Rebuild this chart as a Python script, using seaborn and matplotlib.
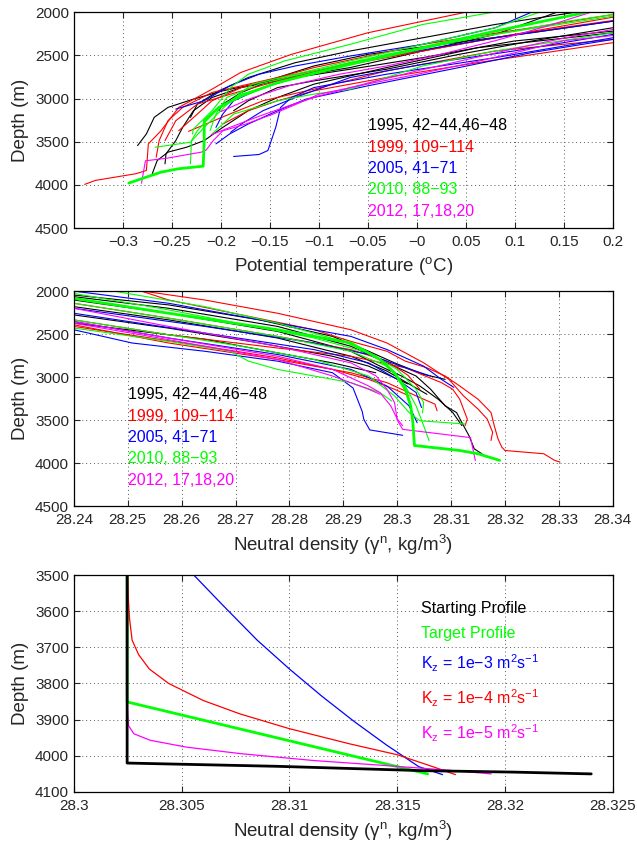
import numpy as np
import pandas as pd
import seaborn as sns
import matplotlib.pyplot as plt
from matplotlib.ticker import FuncFormatter, MultipleLocator

# ---------------- panel 1: potential temperature vs depth ----------------
theta_1995_depth = [
    [2000, 2257, 2449, 2641, 2776, 2910, 3006, 3102, 3217, 3409, 3544],
    [2219, 2334, 2526, 2660, 2756, 2872, 2987, 3140, 3333, 3486, 3640, 3755],
    [2238, 2411, 2641, 2833, 2987, 3140, 3333, 3486, 3563, 3620, 3717, 3870],
    [2000, 2142, 2296, 2449, 2584, 2756, 2910, 3064, 3217],
    [2104, 2238, 2372, 2488, 2622, 2756, 2929, 3064, 3140],
    [2180, 2334, 2488, 2660, 2795, 2872, 3025, 3140],
]
theta_1995 = [
    [0.143, 0.080, 0.006, -0.068, -0.142, -0.198, -0.228, -0.254, -0.268, -0.276, -0.285],
    [0.200, 0.099, 0.006, -0.068, -0.124, -0.179, -0.209, -0.228, -0.239, -0.246, -0.256, -0.257],
    [0.200, 0.062, -0.031, -0.105, -0.142, -0.172, -0.198, -0.217, -0.235, -0.254, -0.265, -0.270],
    [0.162, 0.080, 0.006, -0.068, -0.124, -0.172, -0.202, -0.224, -0.231],
    [0.200, 0.117, 0.025, -0.050, -0.105, -0.142, -0.179, -0.198, -0.202],
    [0.200, 0.117, 0.043, -0.031, -0.105, -0.142, -0.172, -0.187],
]
theta_1999_depth = [
    [2000, 2238, 2488, 2699, 2891, 3102, 3371, 3524, 3832, 3870, 3947, 3993],
    [2058, 2296, 2526, 2756, 2929, 3102, 3256, 3486, 3678],
    [2315, 2449, 2680, 2891, 3025, 3179, 3379],
    [2096, 2257, 2449, 2584, 2795, 2948, 3064, 3256, 3486],
    [2353, 2584, 2756, 2910, 3025, 3140, 3294],
    [2027, 2180, 2372, 2641, 2872, 3025, 3179, 3371],
]
theta_1999 = [
    [0.050, -0.050, -0.128, -0.180, -0.209, -0.243, -0.261, -0.274, -0.276, -0.287, -0.328, -0.339],
    [0.200, 0.080, -0.031, -0.142, -0.209, -0.239, -0.254, -0.263, -0.266],
    [0.200, 0.080, -0.031, -0.105, -0.157, -0.191, -0.233],
    [0.200, 0.099, 0.006, -0.068, -0.142, -0.190, -0.224, -0.246, -0.257],
    [0.200, 0.062, -0.031, -0.105, -0.142, -0.172, -0.198],
    [0.200, 0.117, 0.006, -0.105, -0.179, -0.209, -0.224, -0.243],
]
theta_2005_depth = [
    [2296, 2526, 2718, 2872, 2987, 3102, 3333, 3601, 3647, 3670],
    [2000, 2180, 2372, 2507, 2622, 2718, 2853, 3025, 3121],
    [2315, 2468, 2641, 2852, 3006, 3140, 3294, 3409, 3524],
    [2257, 2449, 2603, 2756, 2987, 3140, 3294, 3390],
    [2104, 2296, 2507, 2699, 2872, 3025, 3179, 3333],
]
theta_2005 = [
    [0.200, 0.080, -0.031, -0.105, -0.128, -0.139, -0.144, -0.152, -0.161, -0.187],
    [0.117, 0.080, 0.006, -0.068, -0.124, -0.161, -0.191, -0.217, -0.246],
    [0.200, 0.117, 0.043, -0.050, -0.113, -0.142, -0.172, -0.191, -0.205],
    [0.200, 0.099, 0.006, -0.068, -0.124, -0.157, -0.179, -0.190],
    [0.200, 0.080, -0.031, -0.105, -0.157, -0.187, -0.198, -0.205],
]
theta_2010_depth = [
    [2027, 2104, 2334, 2564, 2699, 2948, 3140, 3371, 3486, 3755],
    [2000, 2180, 2372, 2564, 2718, 2833, 3025, 3333, 3505, 3563],
    [2000, 2142, 2372, 2564, 2718, 2872, 3140, 3352, 3409],
    [2238, 2449, 2622, 2795, 2891, 2948, 3025, 3179, 3409],
    [2046, 2257, 2488, 2680, 2833, 2987, 3179, 3370],
]
theta_2010 = [
    [0.200, 0.154, 0.043, -0.050, -0.105, -0.179, -0.205, -0.224, -0.230, -0.231],
    [0.125, 0.080, 0.006, -0.068, -0.124, -0.168, -0.190, -0.217, -0.231, -0.267],
    [0.078, 0.006, -0.068, -0.135, -0.172, -0.190, -0.209, -0.228, -0.229],
    [0.200, 0.080, 0.006, -0.042, -0.068, -0.105, -0.142, -0.187, -0.209],
    [0.200, 0.080, -0.031, -0.105, -0.161, -0.194, -0.205, -0.211],
]
theta_target_depth = [2000, 2046, 2219, 2411, 2603, 2814, 2968, 3102, 3256, 3486, 3782, 3812, 3851, 3978]
theta_target = [0.173, 0.154, 0.080, 0.006, -0.068, -0.142, -0.179, -0.202, -0.217, -0.217, -0.218, -0.243, -0.261, -0.294]
theta_2012_depth = [
    [2270, 2330, 2470, 2600, 2720, 2830, 2950, 3050, 3181, 3296, 3373, 3488, 3596, 3620, 3690, 3720, 3980],
    [2200, 2300, 2420, 2550, 2680, 2820, 2970, 3080, 3200, 3330, 3420],
    [2000, 2170, 2330, 2500, 2620, 2720, 2850, 3000, 3150],
]
theta_2012 = [
    [0.200, 0.150, 0.100, 0.050, 0.000, -0.050, -0.100, -0.120, -0.147, -0.175, -0.198, -0.208, -0.215, -0.220, -0.255, -0.277, -0.281],
    [0.200, 0.150, 0.100, 0.050, 0.000, -0.050, -0.100, -0.130, -0.160, -0.190, -0.210],
    [0.178, 0.130, 0.080, 0.020, -0.030, -0.080, -0.130, -0.170, -0.200],
]

# ---------------- panel 2: neutral density vs depth ----------------
gamma_1995_depth = [
    [2065, 2200, 2411, 2642, 2835, 2988, 3142, 3335, 3412, 3565, 3680, 3835, 3892],
    [2104, 2258, 2469, 2700, 2873, 2988, 3104, 3258, 3412, 3565],
    [2181, 2335, 2546, 2758, 2931, 3200],
    [2277, 2431, 2604, 2758, 2873, 3080],
    [2046, 2161, 2335, 2527, 2700, 2835, 2969, 3027],
    [2373, 2560, 2719, 2835, 2950],
]
gamma_1995 = [
    [28.2400, 28.2576, 28.2778, 28.2914, 28.2981, 28.3035, 28.3062, 28.3089, 28.3110, 28.3123, 28.3133, 28.3143, 28.3157],
    [28.2400, 28.2576, 28.2778, 28.2914, 28.2968, 28.3008, 28.3042, 28.3076, 28.3103, 28.3120],
    [28.2400, 28.2576, 28.2778, 28.2914, 28.2981, 28.3055],
    [28.2400, 28.2576, 28.2745, 28.2880, 28.2947, 28.3020],
    [28.2400, 28.2576, 28.2745, 28.2880, 28.2947, 28.2995, 28.3049, 28.3089],
    [28.2400, 28.2643, 28.2778, 28.2880, 28.2960],
]
gamma_1999_depth = [
    [2000, 2104, 2277, 2450, 2585, 2700, 2815, 2892, 2988, 3104, 3258, 3412, 3565, 3719, 3815, 3854, 3892, 3969, 3988],
    [2000, 2104, 2258, 2450, 2604, 2834, 3027, 3219, 3373, 3488, 3642, 3738],
    [2335, 2508, 2662, 2758, 2892, 3065, 3142, 3258, 3488, 3565],
    [2392, 2604, 2796, 2950, 3065, 3219, 3315, 3392],
    [2142, 2315, 2527, 2681, 2815, 2980, 3142],
    [2411, 2642, 2777, 2911, 3027, 3142, 3219],
]
gamma_1999 = [
    [28.2525, 28.2576, 28.2711, 28.2846, 28.2914, 28.2981, 28.3015, 28.3055, 28.3089, 28.3116, 28.3150, 28.3174, 28.3180, 28.3187, 28.3194, 28.3200, 28.3272, 28.3292, 28.3302],
    [28.2528, 28.2643, 28.2778, 28.2914, 28.2981, 28.3049, 28.3096, 28.3123, 28.3150, 28.3167, 28.3177, 28.3174],
    [28.2400, 28.2576, 28.2778, 28.2914, 28.3015, 28.3082, 28.3103, 28.3116, 28.3130, 28.3126],
    [28.2400, 28.2576, 28.2778, 28.2914, 28.2981, 28.3035, 28.3070, 28.3074],
    [28.2400, 28.2576, 28.2778, 28.2914, 28.2981, 28.3020, 28.3042],
    [28.2400, 28.2643, 28.2778, 28.2880, 28.2947, 28.2995, 28.3022],
]
gamma_2005_depth = [
    [2450, 2604, 2700, 2815, 2950, 3127, 3400, 3492, 3615, 3677],
    [2000, 2142, 2373, 2527, 2680, 2873, 3027, 3120],
    [2354, 2546, 2738, 2911, 3104, 3335, 3531],
    [2258, 2488, 2681, 2835, 3027, 3180, 3354],
    [2200, 2411, 2604, 2738, 2892, 2988],
]
gamma_2005 = [
    [28.2400, 28.2508, 28.2643, 28.2778, 28.2880, 28.2918, 28.2935, 28.2938, 28.2949, 28.3010],
    [28.2400, 28.2576, 28.2778, 28.2914, 28.2981, 28.3049, 28.3082, 28.3105],
    [28.2400, 28.2576, 28.2778, 28.2914, 28.2981, 28.3022, 28.3037],
    [28.2400, 28.2643, 28.2846, 28.2947, 28.3000, 28.3035, 28.3045],
    [28.2400, 28.2643, 28.2846, 28.2947, 28.3015, 28.3062],
]
gamma_2010_depth = [
    [2142, 2315, 2527, 2700, 2873, 3104, 3335, 3565, 3738],
    [2027, 2219, 2546, 2719, 2911, 3142, 3296, 3415],
    [2335, 2508, 2642, 2796, 2988, 3219, 3412, 3508, 3546],
    [2430, 2585, 2700, 2815, 2911, 2988, 3065, 3181, 3280],
    [2000, 2181, 2373, 2585, 2758, 2988, 3220],
]
gamma_2010 = [
    [28.2400, 28.2576, 28.2778, 28.2914, 28.2981, 28.3015, 28.3035, 28.3049, 28.3059],
    [28.2400, 28.2576, 28.2846, 28.2947, 28.3000, 28.3035, 28.3049, 28.3047],
    [28.2400, 28.2576, 28.2711, 28.2846, 28.2947, 28.2995, 28.3022, 28.3042, 28.3126],
    [28.2400, 28.2576, 28.2690, 28.2724, 28.2778, 28.2846, 28.2914, 28.2968, 28.2990],
    [28.2474, 28.2643, 28.2778, 28.2900, 28.2961, 28.3000, 28.3020],
]
gamma_target_depth = [2085, 2258, 2450, 2604, 2796, 2950, 3142, 3335, 3527, 3796, 3854, 3892, 3969]
gamma_target = [28.2400, 28.2576, 28.2778, 28.2914, 28.2968, 28.2995, 28.3015, 28.3025, 28.3029, 28.3032, 28.3116, 28.3150, 28.3190]
gamma_2012_depth = [
    [2200, 2411, 2642, 2835, 2988, 3142, 3296, 3500, 3608, 3704, 3973],
    [2354, 2546, 2758, 2911, 3104, 3181, 3335, 3488, 3565],
    [2373, 2565, 2796, 2988, 3142, 3200],
]
gamma_2012 = [
    [28.2400, 28.2576, 28.2778, 28.2914, 28.2961, 28.2981, 28.2995, 28.3000, 28.3010, 28.3136, 28.3145],
    [28.2400, 28.2576, 28.2778, 28.2880, 28.2947, 28.2968, 28.2988, 28.3000, 28.3010],
    [28.2400, 28.2576, 28.2778, 28.2880, 28.2947, 28.2968],
]

# ---------------- panel 3: diffusion model ----------------
start_depth = [3500, 4020, 4029, 4041, 4045, 4050]
start_gamma = [28.30247, 28.30247, 28.30943, 28.31616, 28.32037, 28.32400]
target_depth = [3500, 3851, 4050]
target_gamma = [28.30247, 28.30247, 28.31641]
k3_depth = [3500, 3583, 3680, 3760, 3835, 3905, 3970, 4030, 4052]
k3_gamma = [28.30556, 28.30690, 28.30850, 28.31000, 28.31150, 28.31300, 28.31450, 28.31600, 28.31710]
k4_depth = [3500, 3560, 3620, 3680, 3720, 3760, 3800, 3847, 3884, 3925, 3967, 3997, 4031, 4052]
k4_gamma = [28.30250, 28.30252, 28.30258, 28.30270, 28.30300, 28.30350, 28.30440, 28.30600, 28.30770, 28.31000, 28.31280, 28.31500, 28.31670, 28.31770]
k5_depth = [3500, 3860, 3916, 3939, 3957, 3976, 3994, 4013, 4027, 4038, 4050]
k5_gamma = [28.30247, 28.30247, 28.30253, 28.30278, 28.30354, 28.30522, 28.30774, 28.31111, 28.31448, 28.31700, 28.31936]

years = ['1995', '1999', '2005', '2010', '2012']
year_colors = {'1995': 'k', '1999': 'r', '2005': 'b', '2010': (0, 1, 0), '2012': (1, 0, 1)}
legend_1 = ['1995, 42\u221244,46\u221248', '1999, 109\u2212114', '2005, 41\u221271', '2010, 88\u221293', '2012, 17,18,20']
model_labels = ['Starting Profile', 'Target Profile',
                'K$_{\\mathrm{z}}$ = 1e\u22123 m$^2$s$^{-1}$',
                'K$_{\\mathrm{z}}$ = 1e\u22124 m$^2$s$^{-1}$',
                'K$_{\\mathrm{z}}$ = 1e\u22125 m$^2$s$^{-1}$']
model_colors = ['k', (0, 1, 0), 'b', 'r', (1, 0, 1)]

LABEL_FS = 13.5
TICK_FS = 11
TEXT_FS = 11.5


def profiles_frame(sets):
    rows = []
    for year, depths, values in sets:
        for i, (d, v) in enumerate(zip(depths, values)):
            for k in range(len(d)):
                rows.append({'profile': f'{year}-{i}', 'year': year, 'depth': d[k], 'value': v[k]})
    return pd.DataFrame(rows)


def fmt(v, pos):
    return ('%g' % round(v, 6)).replace('-', '\u2212')


def style_axis(ax):
    ax.tick_params(direction='in', top=True, right=True, length=4, width=0.8, labelsize=TICK_FS)
    ax.tick_params(axis='x', pad=5)
    ax.grid(True, linestyle=(0, (1, 3)), color='0.35', linewidth=0.7)
    for s in ax.spines.values():
        s.set_linewidth(0.9)
        s.set_color('k')
    ax.xaxis.set_major_formatter(FuncFormatter(fmt))


def one_line(ax, x, y, color, lw):
    sns.lineplot(x=x, y=y, sort=False, estimator=None, color=color, linewidth=lw, ax=ax)


sns.set_style('ticks')
plt.rcParams['font.family'] = ['Liberation Sans', 'DejaVu Sans']
plt.rcParams['mathtext.fontset'] = 'custom'
plt.rcParams['mathtext.rm'] = 'Liberation Sans'
plt.rcParams['mathtext.it'] = 'Liberation Sans:italic'

fig = plt.figure(figsize=(6.37, 8.42), dpi=100)
ax1 = fig.add_axes([0.116, 0.729, 0.846, 0.2565])
ax2 = fig.add_axes([0.116, 0.399, 0.846, 0.2553])
ax3 = fig.add_axes([0.116, 0.0594, 0.846, 0.2577])

# panel 1
df1 = profiles_frame([('1995', theta_1995_depth, theta_1995), ('1999', theta_1999_depth, theta_1999),
                      ('2005', theta_2005_depth, theta_2005), ('2010', theta_2010_depth, theta_2010),
                      ('2012', theta_2012_depth, theta_2012)])
sns.lineplot(data=df1, x='value', y='depth', hue='year', units='profile', estimator=None, sort=False,
             palette=year_colors, hue_order=years, legend=False, linewidth=0.8, ax=ax1)
one_line(ax1, theta_target, theta_target_depth, (0, 1, 0), 2)
ax1.set_xlim(-0.35, 0.2)
ax1.set_ylim(4500, 2000)
ax1.set_xticks(np.round(np.arange(-0.3, 0.201, 0.05), 2))
ax1.yaxis.set_major_locator(MultipleLocator(500))
ax1.set_xlabel('Potential temperature ($^{\\mathrm{o}}$C)', fontsize=LABEL_FS)
ax1.set_ylabel('Depth (m)', fontsize=LABEL_FS)
style_axis(ax1)
for i, (lab, yr) in enumerate(zip(legend_1, years)):
    ax1.text(-0.0496, 3313 + i * 248, lab, color=year_colors[yr], fontsize=TEXT_FS, va='center')

# panel 2
df2 = profiles_frame([('1995', gamma_1995_depth, gamma_1995), ('1999', gamma_1999_depth, gamma_1999),
                      ('2005', gamma_2005_depth, gamma_2005), ('2010', gamma_2010_depth, gamma_2010),
                      ('2012', gamma_2012_depth, gamma_2012)])
sns.lineplot(data=df2, x='value', y='depth', hue='year', units='profile', estimator=None, sort=False,
             palette=year_colors, hue_order=years, legend=False, linewidth=0.8, ax=ax2)
one_line(ax2, gamma_target, gamma_target_depth, (0, 1, 0), 2)
ax2.set_xlim(28.24, 28.34)
ax2.set_ylim(4500, 2000)
ax2.xaxis.set_major_locator(MultipleLocator(0.01))
ax2.yaxis.set_major_locator(MultipleLocator(500))
ax2.set_xlabel('Neutral density (\u03b3$^{\\mathrm{n}}$, kg/m$^3$)', fontsize=LABEL_FS)
ax2.set_ylabel('Depth (m)', fontsize=LABEL_FS)
style_axis(ax2)
for i, (lab, yr) in enumerate(zip(legend_1, years)):
    ax2.text(28.25, 3208 + i * 248, lab, color=year_colors[yr], fontsize=TEXT_FS, va='center')

# panel 3
one_line(ax3, target_gamma, target_depth, (0, 1, 0), 2)
one_line(ax3, k3_gamma, k3_depth, 'b', 0.9)
one_line(ax3, k4_gamma, k4_depth, 'r', 0.9)
one_line(ax3, k5_gamma, k5_depth, (1, 0, 1), 0.9)
one_line(ax3, start_gamma, start_depth, 'k', 2)
ax3.set_xlim(28.3, 28.325)
ax3.set_ylim(4100, 3500)
ax3.xaxis.set_major_locator(MultipleLocator(0.005))
ax3.yaxis.set_major_locator(MultipleLocator(100))
ax3.set_xlabel('Neutral density (\u03b3$^{\\mathrm{n}}$, kg/m$^3$)', fontsize=LABEL_FS)
ax3.set_ylabel('Depth (m)', fontsize=LABEL_FS)
style_axis(ax3)
model_y = [3592, 3662, 3745, 3842, 3939]
for lab, c, yy in zip(model_labels, model_colors, model_y):
    ax3.text(28.3161, yy, lab, color=c, fontsize=TEXT_FS, va='center')

fig.savefig('out.png', dpi=100)
